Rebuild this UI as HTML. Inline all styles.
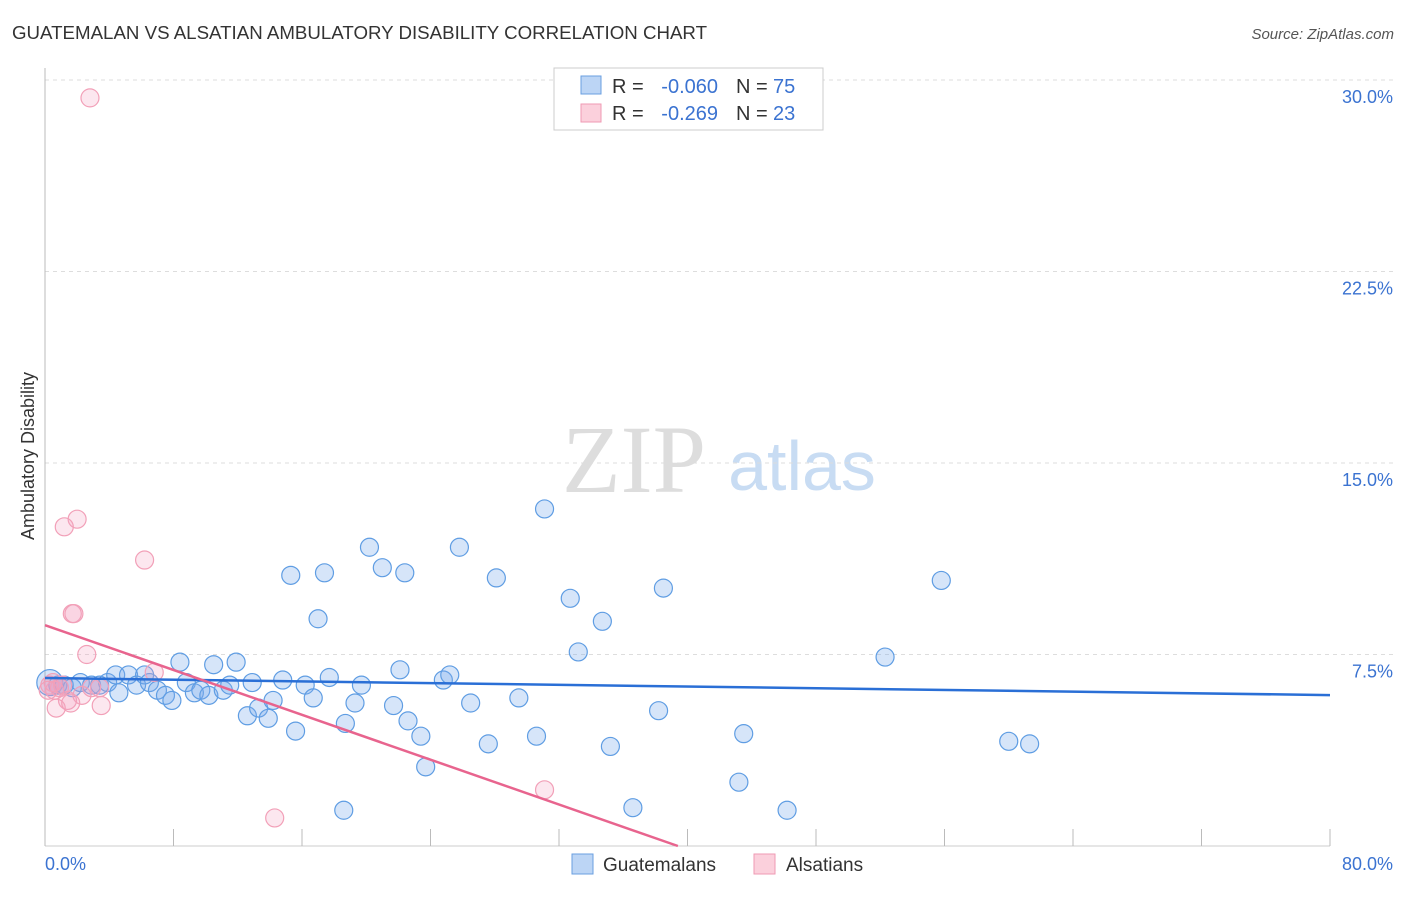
<!DOCTYPE html>
<html><head><meta charset="utf-8"><style>
body{margin:0;background:#fff;font-family:"Liberation Sans",sans-serif;}
</style></head><body>
<svg width="1406" height="892" viewBox="0 0 1406 892" xmlns="http://www.w3.org/2000/svg" font-family="Liberation Sans, sans-serif">
<text x="12" y="39" font-size="18" fill="#333" textLength="695" lengthAdjust="spacingAndGlyphs">GUATEMALAN VS ALSATIAN AMBULATORY DISABILITY CORRELATION CHART</text>
<text x="1394" y="39" font-size="15" fill="#555" font-style="italic" text-anchor="end">Source: ZipAtlas.com</text>
<text x="634" y="492" font-size="96" fill="#ddd" font-family="Liberation Serif, serif" text-anchor="middle">ZIP</text>
<text x="802" y="490" font-size="70" fill="#c8dcf3" text-anchor="middle">atlas</text>
<g id="grid"></g><g id="axes"></g><g id="pts"></g><g id="lines"></g>
<text transform="translate(34,456) rotate(-90)" font-size="18" fill="#333" text-anchor="middle">Ambulatory Disability</text>
<text x="45" y="870" font-size="18" fill="#3b73d1">0.0%</text>
<text x="1393" y="870" font-size="18" fill="#3b73d1" text-anchor="end">80.0%</text>
<g>
<rect x="554" y="68" width="269" height="62" fill="#fff" stroke="#ccc"/>
<rect x="581" y="76" width="20" height="18" fill="#bcd5f5" stroke="#6a9fe0"/>
<rect x="581" y="104" width="20" height="18" fill="#fbd0dc" stroke="#ef9ab3"/>
<text x="612" y="93" font-size="20" fill="#333">R =</text>
<text x="718" y="93" font-size="20" fill="#3b73d1" text-anchor="end">-0.060</text>
<text x="736" y="93" font-size="20" fill="#333">N =</text>
<text x="773" y="93" font-size="20" fill="#3b73d1">75</text>
<text x="612" y="120" font-size="20" fill="#333">R =</text>
<text x="718" y="120" font-size="20" fill="#3b73d1" text-anchor="end">-0.269</text>
<text x="736" y="120" font-size="20" fill="#333">N =</text>
<text x="773" y="120" font-size="20" fill="#3b73d1">23</text>
</g>
<g>
<rect x="572" y="854" width="21" height="20" fill="#bcd5f5" stroke="#6a9fe0"/>
<text x="603" y="871" font-size="19" fill="#333">Guatemalans</text>
<rect x="754" y="854" width="21" height="20" fill="#fbd0dc" stroke="#ef9ab3"/>
<text x="786" y="871" font-size="19" fill="#333">Alsatians</text>
</g>
</svg>
<script>
const yTicks=[7.5,15.0,22.5,30.0];
const xTickVals=[0,8,16,24,32,40,48,56,64,72,80];
const blueX=[0.3,0.8,1.2,1.7,2.2,2.9,3.4,3.9,4.4,4.6,5.2,5.7,6.2,6.5,7.0,7.5,7.9,8.4,8.8,9.3,9.7,10.2,10.5,11.1,11.5,11.9,12.6,12.9,13.3,13.9,14.2,14.8,15.3,15.6,16.2,16.7,17.0,17.4,17.7,18.7,18.6,19.3,19.7,20.2,21.0,21.7,22.1,22.4,22.6,23.4,23.7,24.8,25.2,25.8,26.5,27.6,28.1,29.5,30.6,31.1,32.7,33.2,34.7,35.2,36.6,38.2,38.5,43.2,43.5,46.2,52.3,55.8,60.0,61.3];
const blueY=[6.4,6.3,6.3,6.2,6.4,6.3,6.3,6.4,6.7,6.0,6.7,6.3,6.7,6.4,6.1,5.9,5.7,7.2,6.4,6.0,6.1,5.9,7.1,6.1,6.3,7.2,5.1,6.4,5.4,5.0,5.7,6.5,10.6,4.5,6.3,5.8,8.9,10.7,6.6,4.8,1.4,5.6,6.3,11.7,10.9,5.5,6.9,10.7,4.9,4.3,3.1,6.5,6.7,11.7,5.6,4.0,10.5,5.8,4.3,13.2,9.7,7.6,8.8,3.9,1.5,5.3,10.1,2.5,4.4,1.4,7.4,10.4,4.1,4.0];
const pinkX=[2.8,2.0,1.2,6.2,1.7,1.8,2.6,6.8,0.3,0.6,0.9,1.4,0.7,2.3,2.9,3.4,3.5,1.6,0.5,31.1,14.3,0.2,1.1];
const pinkY=[29.3,12.8,12.5,11.2,9.1,9.1,7.5,6.8,6.3,6.1,6.2,5.7,5.4,5.9,6.2,6.2,5.5,5.6,6.4,2.2,1.1,6.1,6.3];
const blueTrend=[6.58,5.91];
const pinkTrend=[8.65,39.4];
const NS="http://www.w3.org/2000/svg";
const sx=v=>45+v/80*1285, sy=v=>846-v/7.5*191.5;
function mk(tag,attrs,parent){const e=document.createElementNS(NS,tag);for(const k in attrs)e.setAttribute(k,attrs[k]);document.getElementById(parent).appendChild(e);return e;}
yTicks.forEach(t=>{
 const l=mk('line',{x1:45,x2:1393,y1:sy(t),y2:sy(t),stroke:'#ddd','stroke-dasharray':'4,4'},'grid');
 
 
 const tx=mk('text',{x:1393,y:sy(t)+23,'font-size':18,fill:'#3b73d1','text-anchor':'end'},'grid');
 tx.textContent=t.toFixed(1)+'%';
 
 
});
const ax=mk('line',{x1:45,x2:45,y1:68,y2:846,stroke:'#bbb'},'axes');


const bx=mk('line',{x1:45,x2:1330,y1:846,y2:846,stroke:'#ccc'},'axes');


xTickVals.forEach(v=>{
 const t=mk('line',{x1:sx(v),x2:sx(v),y1:829,y2:846,stroke:'#bbb'},'axes');
 
 
});
blueX.forEach((x,i)=>{
 const c=mk('circle',{cx:sx(x),cy:sy(blueY[i]),r:i===0?13:9,fill:'rgba(120,170,235,0.3)',stroke:'#5f9de3','stroke-width':1.2},'pts');
 
 
});
pinkX.forEach((x,i)=>{
 const c=mk('circle',{cx:sx(x),cy:sy(pinkY[i]),r:9,fill:'rgba(245,160,190,0.25)',stroke:'#f2a0b8','stroke-width':1.2},'pts');
 
 
});
const bl=mk('line',{x1:sx(0),y1:sy(blueTrend[0]),x2:sx(80),y2:sy(blueTrend[1]),stroke:'#2a6fd6','stroke-width':2.5},'lines');


const pl=mk('line',{x1:sx(0),y1:sy(pinkTrend[0]),x2:sx(pinkTrend[1]),y2:sy(0),stroke:'#e8648e','stroke-width':2.5},'lines');


</script>
</body></html>
